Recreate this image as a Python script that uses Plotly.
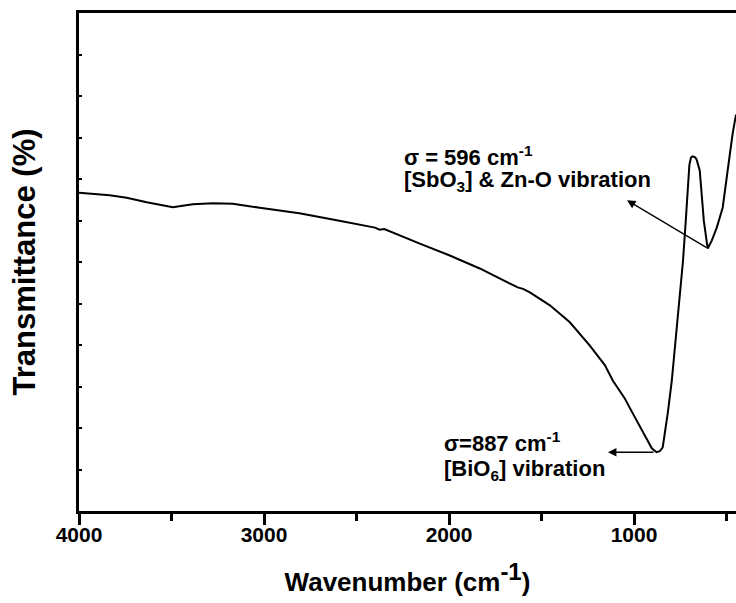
import plotly.graph_objects as go

# FTIR spectrum (wavenumber in cm^-1, transmittance in arbitrary %)
wavenumber = [4000, 3834, 3742, 3634, 3493, 3385, 3277, 3169, 3023, 2809, 2593, 2400, 2375, 2350,
              2158, 1996, 1834, 1672, 1629, 1600, 1563, 1455, 1347, 1239, 1158, 1115, 1050, 1007,
              964, 931, 904, 879, 861, 845, 818, 796, 775, 753, 736, 721, 710, 701, 692, 683,
              670, 662, 645, 623, 602, 580, 553, 521, 494, 467, 449]
transmittance = [63.9, 63.4, 62.9, 62.0, 61.0, 61.6, 61.8, 61.7, 60.9, 59.8, 58.3, 56.9, 56.5, 56.6,
                 53.7, 51.3, 48.7, 45.7, 44.9, 44.6, 43.9, 41.3, 37.9, 33.2, 29.3, 26.2, 22.6, 19.6,
                 16.6, 14.2, 12.6, 11.8, 12.0, 12.8, 19.6, 26.2, 34.2, 42.5, 50.0, 58.0, 65.5, 69.5,
                 71.0, 71.2, 71.0, 70.6, 68.4, 58.3, 52.7, 54.3, 56.9, 60.9, 68.4, 75.8, 79.6]

x_ticks = [4000, 3000, 2000, 1000]
x_tick_labels = ["4000", "3000", "2000", "1000"]

peak_labels = [
    {"wn": 887, "t": 11.8, "head_wn": 1141, "head_t": 11.8,
     "lines": ["σ=887 cm<sup>-1</sup>", "[BiO<sub>6</sub>] vibration"],
     "text_wn": 2040, "text_t": [13.8, 8.2]},
    {"wn": 600, "t": 52.7, "head_wn": 1038, "head_t": 62.4,
     "lines": ["σ = 596 cm<sup>-1</sup>", "[SbO<sub>3</sub>] &amp; Zn-O vibration"],
     "text_wn": 2256, "text_t": [71.2, 66.2]},
]

FONT = "Liberation Sans, Arial, sans-serif"

fig = go.Figure()
fig.add_trace(go.Scatter(x=wavenumber, y=transmittance, mode="lines",
                         line=dict(color="black", width=2), showlegend=False))

annotations = []
for p in peak_labels:
    annotations.append(dict(x=p["head_wn"], y=p["head_t"], ax=p["wn"], ay=p["t"],
                            xref="x", yref="y", axref="x", ayref="y", text="",
                            showarrow=True, arrowhead=2, arrowsize=1.3, arrowwidth=1.3,
                            arrowcolor="black"))
    for line, ty in zip(p["lines"], p["text_t"]):
        annotations.append(dict(x=p["text_wn"], y=ty, xref="x", yref="y", text=line,
                                showarrow=False, xanchor="left", yanchor="middle",
                                font=dict(family=FONT, size=22, color="black", weight="bold")))

fig.update_layout(
    width=736, height=603,
    margin=dict(l=79, r=0, t=13, b=92),
    paper_bgcolor="white", plot_bgcolor="white",
    annotations=annotations,
    xaxis=dict(range=[4000, 449], tickvals=x_ticks, ticktext=x_tick_labels,
               showline=True, linewidth=3, linecolor="black", mirror=True,
               ticks="outside", ticklen=11, tickwidth=3, tickcolor="black",
               minor=dict(dtick=500, tick0=0, ticks="outside", ticklen=7, tickwidth=3, tickcolor="black"),
               showgrid=False, zeroline=False, automargin=False, ticklabelstandoff=-8,
               tickfont=dict(family=FONT, size=21, color="black", weight="bold"),
               title=dict(text="Wavenumber (cm<sup><span style='font-size:24px'>-1</span></sup>)",
                          standoff=28,
                          font=dict(family=FONT, size=26, color="black", weight="bold"))),
    yaxis=dict(range=[0, 100], dtick=100 / 12, tick0=0,
               showline=True, linewidth=3, linecolor="black", mirror=False,
               ticks="inside", ticklen=3, tickwidth=2, tickcolor="black",
               showticklabels=False, showgrid=False, zeroline=False, automargin=False,
               title=dict(text="Transmittance (%)", standoff=32,
                          font=dict(family=FONT, size=31, color="black", weight="bold"))),
)

fig.write_html("out.html", config={"displayModeBar": False},
               post_script="document.body.style.margin='0';")
